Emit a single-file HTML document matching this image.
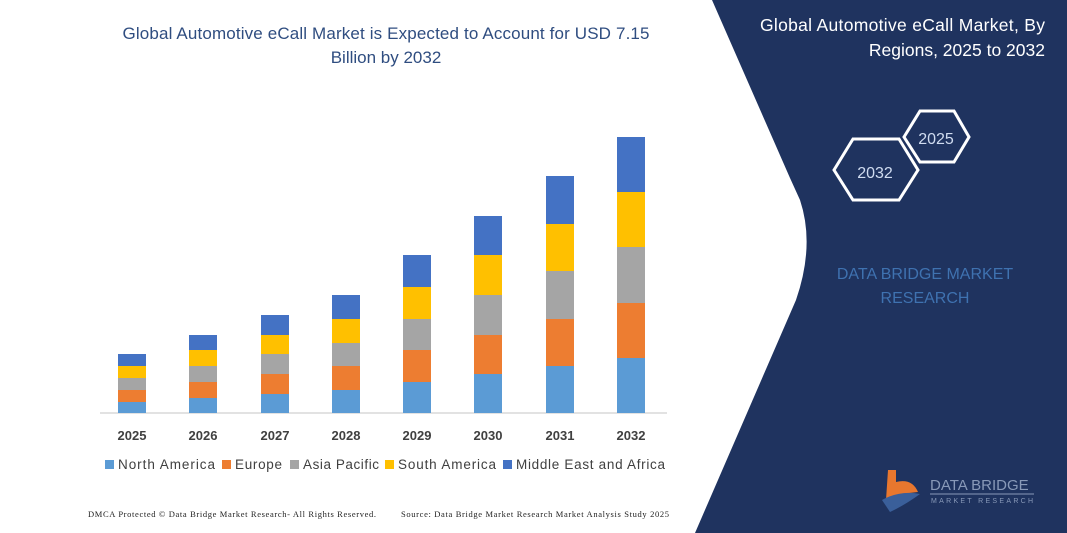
<!DOCTYPE html>
<html><head><meta charset="utf-8"><style>
body{margin:0;width:1067px;height:533px;overflow:hidden;background:#fff;font-family:"Liberation Sans",sans-serif;}
</style></head><body>
<svg width="1067" height="533" viewBox="0 0 1067 533" xmlns="http://www.w3.org/2000/svg" style="position:absolute;left:0;top:0">
<rect width="1067" height="533" fill="#fff"/>
<path d="M712,0 L1067,0 L1067,533 L695,533 L796,300 Q815,245 800,200 L790,178 Z" fill="#1f335f"/>
<text x="1045" y="31" font-size="17.5" fill="#fff" text-anchor="end" textLength="285">Global Automotive eCall Market, By</text>
<text x="1045" y="56" font-size="17.5" fill="#fff" text-anchor="end">Regions, 2025 to 2032</text>
<polygon points="834,170 853,139 899,139 918,170 899,200 853,200" fill="none" stroke="#fff" stroke-width="3"/>
<text x="875" y="178" font-size="16" fill="#d0dcf0" text-anchor="middle">2032</text>
<polygon points="904,137 920,111 954,111 969,137 954,162 920,162" fill="none" stroke="#fff" stroke-width="3"/>
<text x="936" y="144" font-size="16" fill="#d0dcf0" text-anchor="middle">2025</text>
<text x="925" y="279" font-size="16" fill="#3f72b0" text-anchor="middle">DATA BRIDGE MARKET</text>
<text x="925" y="303" font-size="16" fill="#3f72b0" text-anchor="middle">RESEARCH</text>
<path d="M888,470 L896,470 L896,482 Q912,478 918,492 L900,494 L886,500 Z" fill="#e8772e"/>
<path d="M882,500 Q900,490 920,494 Q905,505 890,512 Z" fill="#3a5f9a"/>
<text x="930" y="490" font-size="15" fill="#8899b8">DATA BRIDGE</text>
<line x1="930" y1="494" x2="1034" y2="494" stroke="#8899b8" stroke-width="1"/>
<text x="931" y="503" font-size="7" fill="#8899b8" letter-spacing="2.3">MARKET RESEARCH</text>

<text x="386" y="39" font-size="17" fill="#2f4d80" text-anchor="middle" textLength="527">Global Automotive eCall Market is Expected to Account for USD 7.15</text>
<text x="386" y="63" font-size="17" fill="#2f4d80" text-anchor="middle">Billion by 2032</text>
<line x1="100" y1="413" x2="667" y2="413" stroke="#d9d9d9" stroke-width="1.5"/>
<g id="bars"></g>
<g font-size="13" font-weight="bold" fill="#404040" text-anchor="middle">
<text x="132" y="440">2025</text><text x="203" y="440">2026</text><text x="275" y="440">2027</text><text x="346" y="440">2028</text><text x="417" y="440">2029</text><text x="488" y="440">2030</text><text x="560" y="440">2031</text><text x="631" y="440">2032</text>
</g>
<g font-size="13.5" fill="#404040">
<rect x="105" y="460" width="9" height="9" fill="#5b9bd5"/><text x="118" y="469" textLength="97">North America</text>
<rect x="222" y="460" width="9" height="9" fill="#ed7d31"/><text x="235" y="469" textLength="47">Europe</text>
<rect x="290" y="460" width="9" height="9" fill="#a5a5a5"/><text x="303" y="469" textLength="76">Asia Pacific</text>
<rect x="385" y="460" width="9" height="9" fill="#ffc000"/><text x="398" y="469" textLength="98">South America</text>
<rect x="503" y="460" width="9" height="9" fill="#4472c4"/><text x="516" y="469" textLength="149">Middle East and Africa</text>
</g>
<g font-family="Liberation Serif" font-size="8.5" fill="#222">
<text x="88" y="517" textLength="288">DMCA Protected © Data Bridge Market Research-  All Rights Reserved.</text>
<text x="401" y="517" textLength="268">Source: Data Bridge Market Research  Market Analysis Study 2025</text>
</g>
</svg>
<script>
var xs=[118,189,261,332,403,474,546,617];
var b=[[354,366,378,390,402],[335,350,366,382,398],[315,335,354,374,394],[295,319,343,366,390],[255,287,319,350,382],[216,255,295,335,374],[176,224,271,319,366],[137,192,247,303,358]];
var c=["#4472c4","#ffc000","#a5a5a5","#ed7d31","#5b9bd5"];
var g=document.getElementById("bars"),s="";
for(var i=0;i<8;i++){for(var j=0;j<5;j++){var y0=b[i][j],y1=j<4?b[i][j+1]:413;
s+='<rect x="'+xs[i]+'" y="'+y0+'" width="28" height="'+(y1-y0)+'" fill="'+c[j]+'"/>';}}
g.innerHTML=s;
</script>
</body></html>
